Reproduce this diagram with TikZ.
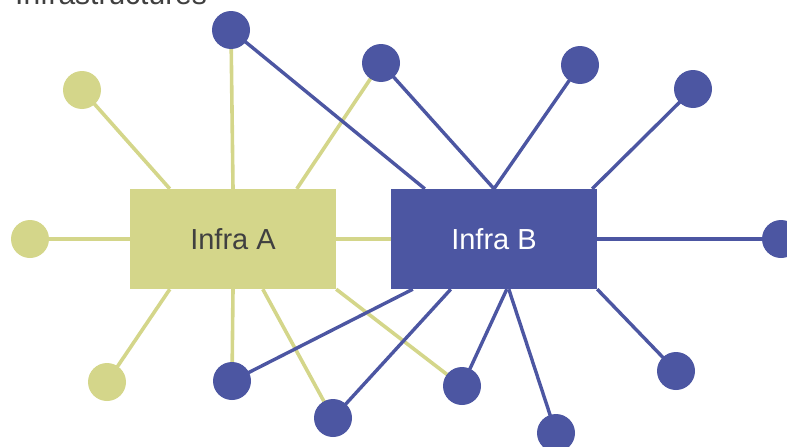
\documentclass[tikz,border=0pt]{standalone}
\usepackage{fontspec}
\setmainfont{Liberation Sans}
\usetikzlibrary{backgrounds}
\definecolor{ygreen}{HTML}{D4D68A}
\definecolor{iblue}{HTML}{4C56A2}
\definecolor{tgray}{HTML}{404040}
\begin{document}
\begin{tikzpicture}[x=1pt,y=-1pt,
  box/.style={rectangle,minimum width=206pt,minimum height=100pt,inner sep=0pt,
    font=\fontsize{29}{34}\selectfont},
  boxA/.style={box,fill=ygreen,text=tgray},
  boxB/.style={box,fill=iblue,text=white},
  dotg/.style={circle,fill=ygreen,minimum size=38pt,inner sep=0pt},
  dotb/.style={circle,fill=iblue,minimum size=38pt,inner sep=0pt},
  gline/.style={draw=ygreen,line width=3.6pt},
  bline/.style={draw=iblue,line width=3.4pt}]
\useasboundingbox (0,0) rectangle (787,447);
\clip (0,0) rectangle (787,447);
\node[anchor=base west,text=tgray,inner sep=0pt,font=\fontsize{30}{36}\selectfont] (title) at (15,5) {Infrastructures};
% boxes
\node[boxA] (A) at (233,239) {Infra A};
\node[boxB] (B) at (494,239) {Infra B};
% circles
\node[dotg] (g1) at (82,90) {};
\node[dotg] (g2) at (30,239) {};
\node[dotg] (g3) at (107,382) {};
\node[dotb] (b1) at (231,30) {};
\node[dotb] (b2) at (381,63) {};
\node[dotb] (b3) at (580,65) {};
\node[dotb] (b4) at (693,89) {};
\node[dotb] (b5) at (781,239) {};
\node[dotb] (b6) at (676,371) {};
\node[dotb] (b7) at (556,433) {};
\node[dotb] (b8) at (462,386) {};
\node[dotb] (b9) at (333,418) {};
\node[dotb] (b10) at (232,381) {};
\begin{pgfonlayer}{background}
% green connectors
\draw[gline] (g1.center) -- ([xshift=40pt]A.north west);
\draw[gline] (g2.center) -- (A.west);
\draw[gline] (b1.center) -- (A.north);
\draw[gline] (b2.center) -- ([xshift=167pt]A.north west);
\draw[gline] (A.east) -- (B.west);
\draw[gline] (g3.center) -- ([xshift=40pt]A.south west);
\draw[gline] (b10.center) -- (A.south);
\draw[gline] (b9.center) -- ([xshift=133pt]A.south west);
\draw[gline] (b8.center) -- (A.south east);
% blue connectors
\draw[bline] (b1.center) -- ([xshift=34pt]B.north west);
\draw[bline] (b2.center) -- (B.north);
\draw[bline] (b3.center) -- (B.north);
\draw[bline] (b4.center) -- ([xshift=-5pt]B.north east);
\draw[bline] (b5.center) -- (B.east);
\draw[bline] (b6.center) -- (B.south east);
\draw[bline] (b7.center) -- ([xshift=118pt]B.south west);
\draw[bline] (b8.center) -- ([xshift=116pt]B.south west);
\draw[bline] (b9.center) -- ([xshift=60pt]B.south west);
\draw[bline] (b10.center) -- ([xshift=22pt]B.south west);
\end{pgfonlayer}
\end{tikzpicture}
\end{document}
